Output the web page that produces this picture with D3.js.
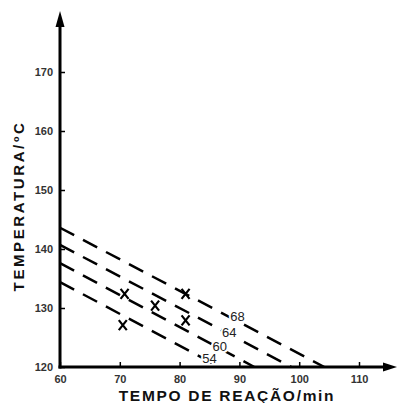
<!DOCTYPE html>
<html>
<head>
<meta charset="utf-8">
<script src="https://cdn.jsdelivr.net/npm/d3@7"></script>
<style>
  body { margin: 0; background: #fff; }
  svg { display: block; }
</style>
</head>
<body>
<svg id="ctner"></svg>
<script>
// tick values
const xTicks = [60, 70, 80, 90, 100, 110];
const yTicks = [120, 130, 140, 150, 160, 170];

// dashed lines: label, start (time, temp), end (time, temp)
const lineNames = ["68", "64", "60", "54"];
const lineStart = [[60, 143.6], [60, 140.7], [60, 137.6], [60, 134.4]];
const lineEnd = [[104.2, 120], [98.7, 120], [92.5, 120], [86.7, 120]];
// where the label sits on each line
const labelPos = [[89.7, 128.5], [88.3, 125.9], [86.7, 123.5], [85.0, 121.4]];

// measured points (X marks)
const markTime = [70.8, 75.9, 70.5, 81.0, 81.0];
const markTemp = [132.4, 130.4, 127.1, 132.4, 127.9];

main();

function main() {
  const width = 400;
  const height = 403;
  const svg = d3.select("#ctner").attr("width", width).attr("height", height);

  /* scales */
  const x = d3.scaleLinear().domain([60, 110]).range([60, 359]);
  const y = d3.scaleLinear().domain([120, 170]).range([367, 72]);

  /* axes */
  const xGroup = svg.append("g").attr("transform", `translate(0, ${y(120)})`);
  xGroup
    .call(d3.axisBottom(x).tickValues(xTicks).tickSize(-5).tickPadding(8))
    .call((g) => g.select(".domain").remove())
    .call((g) => g.selectAll(".tick line").attr("stroke", "#000").attr("stroke-width", 1.5))
    .call((g) => g.selectAll(".tick text")
      .attr("fill", "#333")
      .style("font", "bold 11px 'Liberation Sans', Arial, sans-serif"));

  const yGroup = svg.append("g").attr("transform", `translate(${x(60)}, 0)`);
  yGroup
    .call(d3.axisLeft(y).tickValues(yTicks).tickSize(-5).tickPadding(7))
    .call((g) => g.select(".domain").remove())
    .call((g) => g.selectAll(".tick line").attr("stroke", "#000").attr("stroke-width", 1.5))
    .call((g) => g.selectAll(".tick text")
      .attr("fill", "#333")
      .style("font", "bold 11px 'Liberation Sans', Arial, sans-serif"));

  // axis lines with arrow heads
  const x0 = x(60), y0 = y(120);
  svg.append("path")
    .attr("d", `M${x0},${y0 + 1.5}V22`)
    .attr("stroke", "#000").attr("stroke-width", 3).attr("fill", "none");
  svg.append("path")
    .attr("d", `M${x0 - 1.5},${y0}H388`)
    .attr("stroke", "#000").attr("stroke-width", 3).attr("fill", "none");
  svg.append("path")
    .attr("d", `M${x0},11L${x0 - 4.5},27L${x0 + 4.5},27Z`)
    .attr("fill", "#000");
  svg.append("path")
    .attr("d", `M397,${y0}L383,${y0 - 4.5}L383,${y0 + 4.5}Z`)
    .attr("fill", "#000");

  /* dashed lines */
  const line = d3.line().x((d) => x(d[0])).y((d) => y(d[1]));
  svg.append("g")
    .selectAll("path")
    .data(lineNames.map((n, i) => [lineStart[i], lineEnd[i]]))
    .join("path")
    .attr("d", line)
    .attr("fill", "none")
    .attr("stroke", "#000")
    .attr("stroke-width", 2.5)
    .attr("stroke-dasharray", "16 10");

  /* line labels */
  svg.append("g")
    .selectAll("text")
    .data(lineNames)
    .join("text")
    .attr("x", (d, i) => x(labelPos[i][0]))
    .attr("y", (d, i) => y(labelPos[i][1]))
    .attr("text-anchor", "middle")
    .attr("dominant-baseline", "central")
    .attr("fill", "#222")
    .attr("stroke", "#fff")
    .attr("stroke-width", 4)
    .attr("paint-order", "stroke")
    .style("font", "13px 'Liberation Sans', Arial, sans-serif")
    .text((d) => d);

  /* X marks */
  svg.append("g")
    .selectAll("path")
    .data(markTime.map((t, i) => [t, markTemp[i]]))
    .join("path")
    .attr("transform", (d) => `translate(${x(d[0])}, ${y(d[1])})`)
    .attr("d", "M-4,-5L4,5M4,-5L-4,5")
    .attr("stroke", "#000")
    .attr("stroke-width", 2.2)
    .attr("fill", "none");

  /* titles */
  svg.append("text")
    .attr("x", 227)
    .attr("y", 401)
    .attr("text-anchor", "middle")
    .attr("fill", "#111")
    .style("font", "bold 15.5px 'Liberation Sans', Arial, sans-serif")
    .style("letter-spacing", "1.7px")
    .text("TEMPO DE REAÇÃO/min");

  svg.append("text")
    .attr("transform", "translate(24, 206) rotate(-90)")
    .attr("text-anchor", "middle")
    .attr("fill", "#111")
    .style("font", "bold 15px 'Liberation Sans', Arial, sans-serif")
    .style("letter-spacing", "2.6px")
    .text("TEMPERATURA/ºC");
}
</script>
</body>
</html>
